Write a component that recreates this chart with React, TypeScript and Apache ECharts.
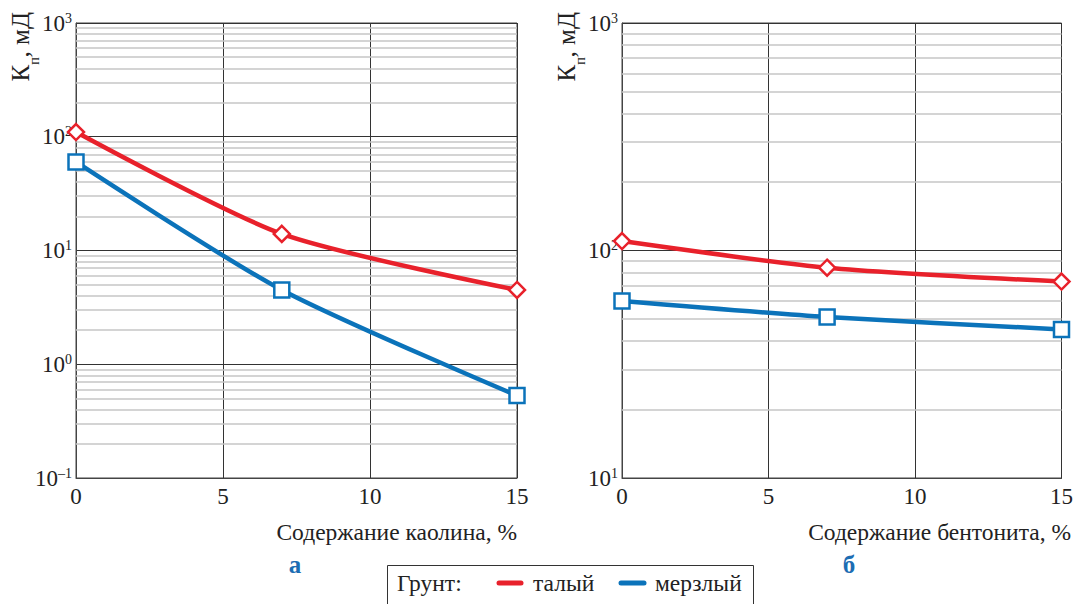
import React, { useEffect, useRef } from "react";
import * as echarts from "echarts";

const xValues = [0, 7, 15];
const thawedKaolin = [110, 14, 4.5];
const frozenKaolin = [60, 4.5, 0.53];
const thawedBentonite = [110, 84, 73];
const frozenBentonite = [60, 51, 45];
const leftDecades = [0.1, 1, 10, 100];
const rightDecades = [10, 100];
const minorSteps = [2, 3, 4, 5, 6, 7, 8, 9];

const RED = "#e8212b";
const BLUE = "#0b73ba";
const FONT = "Liberation Serif, DejaVu Serif, serif";

function minorValues(decades: number[]) {
  const out: number[] = [];
  decades.forEach((d) => minorSteps.forEach((s) => out.push(+(d * s).toPrecision(6))));
  return out;
}

function pairs(ys: number[]) {
  return xValues.map((x, i) => [x, ys[i]]);
}

const supLabel = (v: number) => {
  const e = Math.round(Math.log10(v));
  const s = e < 0 ? "–" + Math.abs(e) : String(e);
  return `{b|10}{s|${s}}`;
};

const yRich = {
  b: { fontSize: 23, fontFamily: FONT, color: "#222", lineHeight: 24 },
  s: { fontSize: 14, fontFamily: FONT, color: "#222", lineHeight: 24, verticalAlign: "top", padding: [0, 0, 12, 0] },
};

function makeAxes(idx: number, min: number, max: number) {
  return {
    x: {
      type: "value",
      gridIndex: idx,
      min: 0,
      max: 15,
      interval: 5,
      axisLine: { show: true, lineStyle: { color: "#444", width: 1 } },
      axisTick: { show: false },
      axisLabel: { fontSize: 23, fontFamily: FONT, color: "#222", margin: 7 },
      splitLine: { show: true, lineStyle: { color: "#333", width: 1 } },
    },
    y: {
      type: "log",
      logBase: 10,
      gridIndex: idx,
      min,
      max,
      axisLine: { show: true, lineStyle: { color: "#444", width: 1 } },
      axisTick: { show: false },
      axisLabel: { formatter: supLabel, rich: yRich, margin: 4 },
      splitLine: { show: true, lineStyle: { color: "#333", width: 1 } },
    },
  };
}

function seriesFor(idx: number, thawed: number[], frozen: number[], minors: number[], smooth: number) {
  return [
    {
      type: "line",
      xAxisIndex: idx,
      yAxisIndex: idx,
      data: [],
      silent: true,
      z: 0,
      markLine: {
        silent: true,
        symbol: "none",
        label: { show: false },
        lineStyle: { color: "#c6c6c6", width: 1.5, type: "solid" },
        data: minors.map((v) => ({ yAxis: v })),
      },
    },
    {
      name: "мерзлый",
      type: "line",
      xAxisIndex: idx,
      yAxisIndex: idx,
      data: pairs(frozen),
      smooth,
      clip: false,
      z: 8,
      symbol: "rect",
      symbolSize: 15,
      lineStyle: { color: BLUE, width: 4.5 },
      itemStyle: { color: "#fff", borderColor: BLUE, borderWidth: 2.5 },
    },
    {
      name: "талый",
      type: "line",
      xAxisIndex: idx,
      yAxisIndex: idx,
      data: pairs(thawed),
      smooth,
      clip: false,
      z: 9,
      symbol: "diamond",
      symbolSize: 16,
      lineStyle: { color: RED, width: 4.5 },
      itemStyle: { color: "#fff", borderColor: RED, borderWidth: 2.5 },
    },
  ];
}

function yTitle(x: number) {
  return {
    type: "text",
    x,
    y: 12,
    rotation: Math.PI / 2,
    style: {
      text: "{k|К}{p|п}{k|, мД}",
      align: "right",
      verticalAlign: "middle",
      rich: {
        k: { fontSize: 25, fontFamily: FONT, fill: "#222", lineHeight: 26, verticalAlign: "top" },
        p: { fontSize: 14, fontFamily: FONT, fill: "#222", lineHeight: 13, verticalAlign: "top", padding: [19, 0, 0, 0] },
      },
    },
  };
}

export default function App() {
  const ref = useRef<HTMLDivElement>(null);
  useEffect(() => {
    document.body.style.margin = "0";
    const chart = echarts.init(ref.current!, null, { renderer: "svg" });
    const a = makeAxes(0, 0.1, 1000);
    const b = makeAxes(1, 10, 1000);
    const txt = (size: number, bold = false) => `${bold ? "bold " : ""}${size}px ${FONT}`;
    chart.setOption({
      animation: false,
      backgroundColor: "#fff",
      grid: [
        { left: 76, top: 23, width: 441, height: 455, show: true, borderColor: "#444", borderWidth: 1, backgroundColor: "transparent" },
        { left: 622, top: 23, width: 441, height: 455, show: true, borderColor: "#444", borderWidth: 1, backgroundColor: "transparent" },
      ],
      xAxis: [a.x, b.x],
      yAxis: [a.y, b.y],
      series: [
        ...seriesFor(0, thawedKaolin, frozenKaolin, minorValues(leftDecades), 0.25),
        ...seriesFor(1, thawedBentonite, frozenBentonite, minorValues(rightDecades), 0.25),
      ],
      graphic: [
        yTitle(21),
        yTitle(567),
        { type: "text", x: 517, y: 532, style: { text: "Содержание каолина, %", align: "right", verticalAlign: "middle", font: txt(23.5), fill: "#222" } },
        { type: "text", x: 1071, y: 532, style: { text: "Содержание бентонита, %", align: "right", verticalAlign: "middle", font: txt(23.5), fill: "#222" } },
        { type: "text", x: 295, y: 564, style: { text: "а", align: "center", verticalAlign: "middle", font: txt(25, true), fill: "#1c6db3" } },
        { type: "text", x: 849, y: 564, style: { text: "б", align: "center", verticalAlign: "middle", font: txt(25, true), fill: "#1c6db3" } },
        { type: "rect", shape: { x: 387.5, y: 565.5, width: 366, height: 50 }, style: { fill: "#fff", stroke: "#333", lineWidth: 1 } },
        { type: "text", x: 397, y: 583, style: { text: "Грунт:", verticalAlign: "middle", font: txt(23.5), fill: "#222" } },
        { type: "line", shape: { x1: 499, y1: 583, x2: 521, y2: 583 }, style: { stroke: RED, lineWidth: 5, lineCap: "round" } },
        { type: "text", x: 533, y: 583, style: { text: "талый", verticalAlign: "middle", font: txt(23.5), fill: "#222" } },
        { type: "line", shape: { x1: 621, y1: 583, x2: 644, y2: 583 }, style: { stroke: BLUE, lineWidth: 5, lineCap: "round" } },
        { type: "text", x: 655, y: 583, style: { text: "мерзлый", verticalAlign: "middle", font: txt(23.5), fill: "#222" } },
      ],
    });
    return () => chart.dispose();
  }, []);
  return <div ref={ref} style={{ width: 1076, height: 604 }} />;
}
